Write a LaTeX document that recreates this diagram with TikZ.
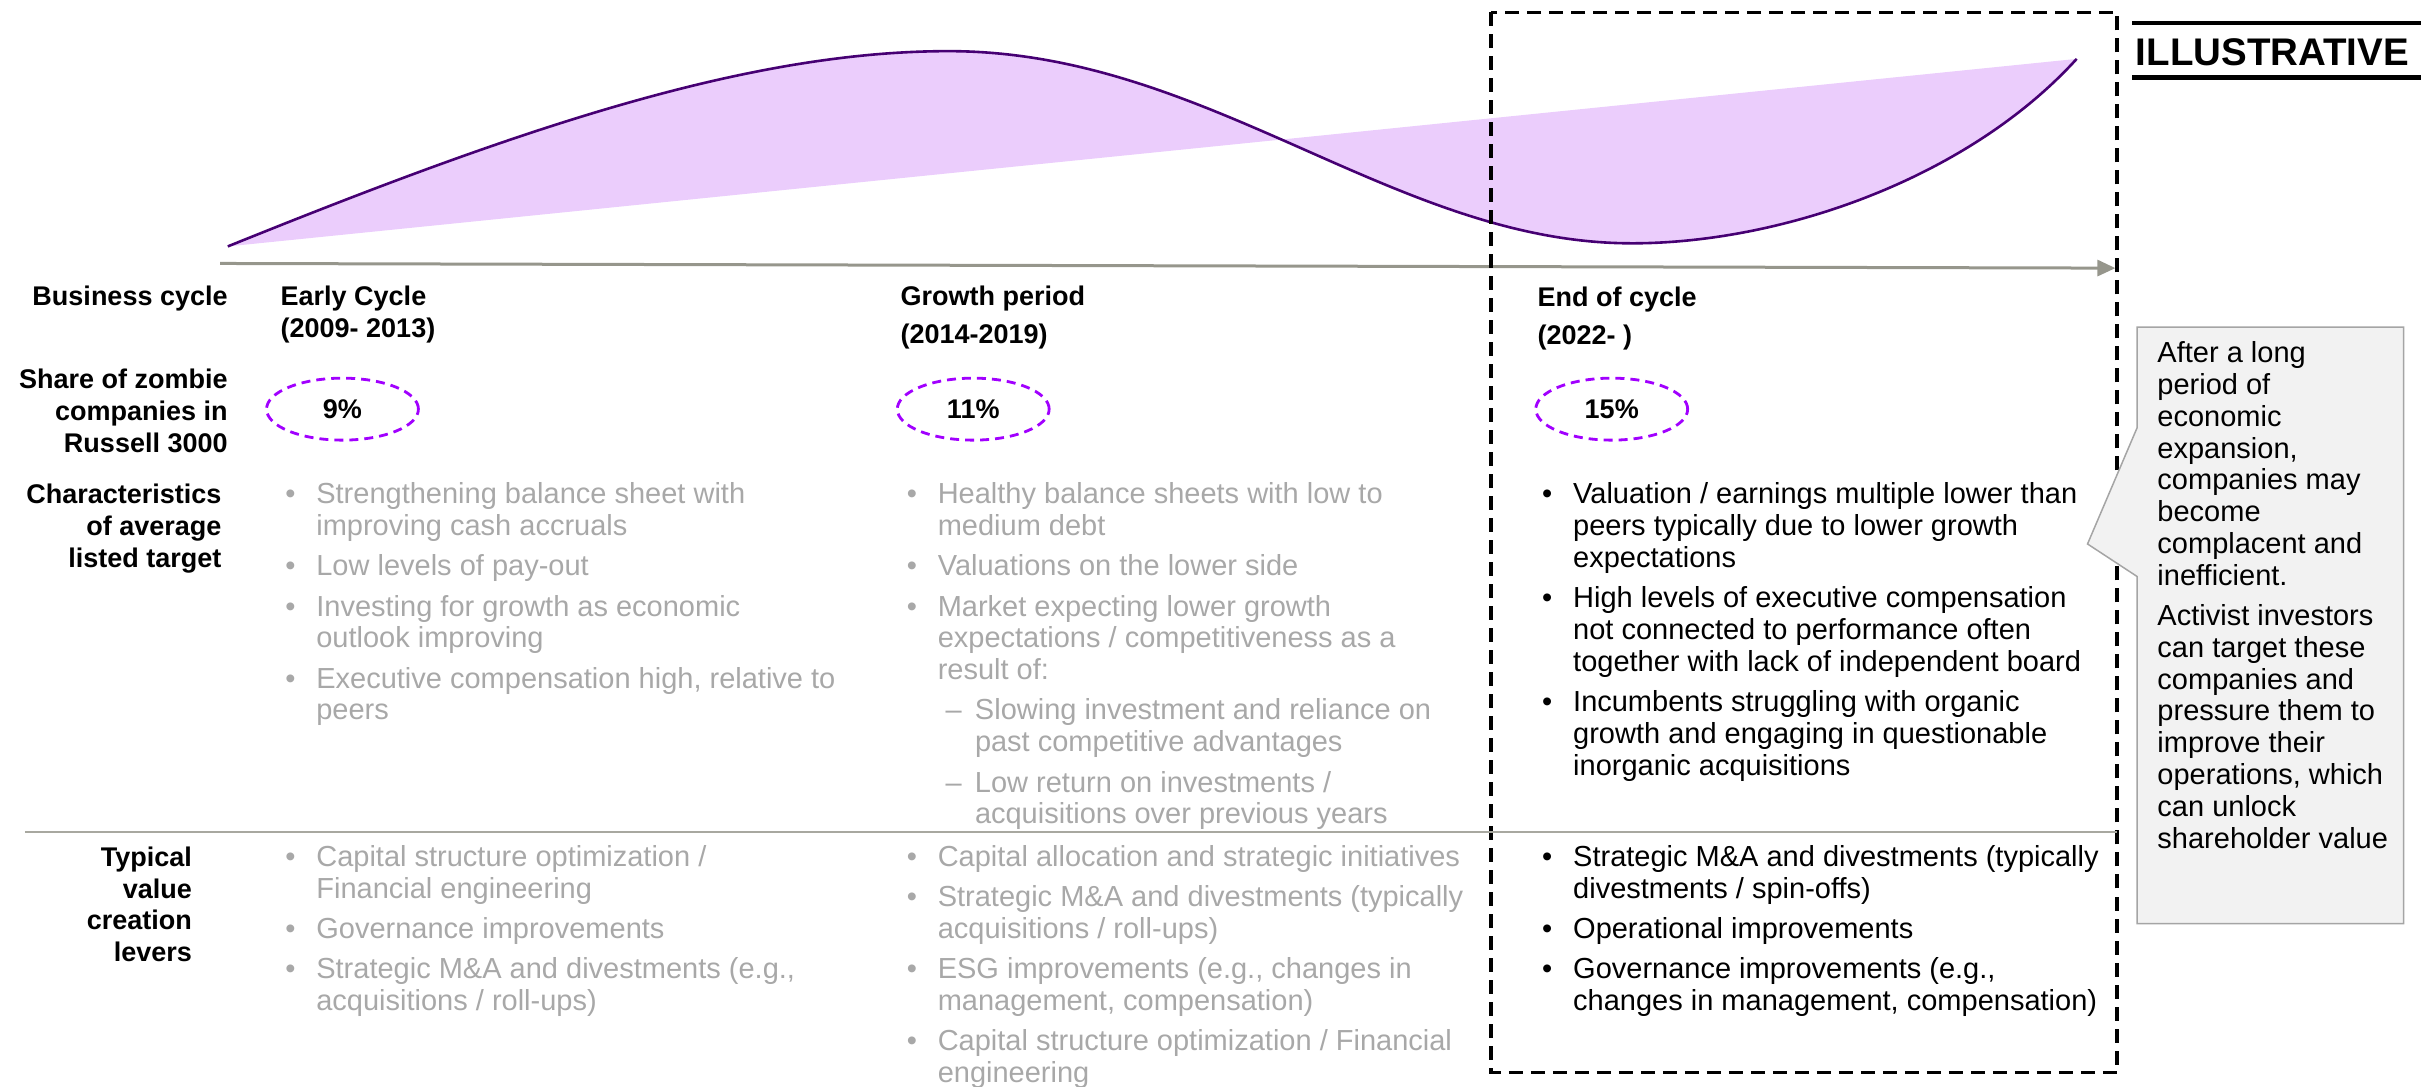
\documentclass[tikz,border=0pt]{standalone}
\usepackage{fontspec}
\setmainfont{Liberation Sans}
\usetikzlibrary{arrows.meta,shapes.geometric}
\definecolor{curvepurple}{HTML}{460073}
\definecolor{fillpurple}{HTML}{EBCDFC}
\definecolor{ovalpurple}{HTML}{A100FF}
\definecolor{axisgray}{HTML}{96968C}
\definecolor{txtgray}{HTML}{A8A8A8}
\definecolor{sepgray}{HTML}{A8A8A0}
\definecolor{calloutfill}{HTML}{F2F2F2}
\definecolor{calloutedge}{HTML}{A5A5A5}
\newlength\spx \setlength\spx{1.5497pt}
\newcommand\bl{\makebox[20\spx][l]{•}}
\newcommand\sbl{\hspace*{5\spx}\makebox[19\spx][l]{–}}
\newcommand\sind{\hspace*{24\spx}}
\newcommand\gapb{\\[8.5pt]}
\tikzset{
  lbl/.style={anchor=base east, inner sep=0, font=\fontsize{27}{31.8}\selectfont\bfseries},
  hdr/.style={anchor=base west, inner sep=0, font=\fontsize{27}{31.8}\selectfont\bfseries},
  blk/.style={anchor=base west, inner sep=0, font=\fontsize{29}{31.8}\selectfont},
  greyblk/.style={blk, text=txtgray},
  oval/.style={ellipse, draw=ovalpurple, line width=2.8pt, dash pattern=on 9pt off 6pt,
    minimum width=98\spx, minimum height=40\spx, inner sep=0, font=\fontsize{27}{31.8}\selectfont\bfseries},
  axisline/.style={draw=axisgray, line width=3pt, -{Triangle[length=18pt,width=16pt]}},
  endbox/.style={draw=black, line width=3.5pt, dash pattern=on 14pt off 8pt},
  sepline/.style={draw=sepgray, line width=2pt},
  callout/.style={fill=calloutfill, draw=calloutedge, line width=1.5pt},
  illline/.style={draw=black, line width=4.5pt}
}
\begin{document}
\begin{tikzpicture}[x=1.5497pt, y=-1.5497pt]
\useasboundingbox (0,0) rectangle (1568,701);

% wave
\coordinate (cs) at (147,159);
\coordinate (cpk) at (612,33);
\coordinate (ctr) at (1053,157);
\coordinate (ce) at (1340,38);
\fill[fillpurple] (cs) .. controls (330,85) and (480,33) .. (cpk)
  .. controls (780,33) and (900,157) .. (ctr)
  .. controls (1150,157) and (1270,115) .. (ce) -- cycle;
\draw[curvepurple, line width=2.6pt] (cs) .. controls (330,85) and (480,33) .. (cpk)
  .. controls (780,33) and (900,157) .. (ctr)
  .. controls (1150,157) and (1270,115) .. (ce);

% axis
\coordinate (ax0) at (142,170);
\coordinate (ax1) at (1365,173);
\draw[axisline] (ax0) -- (ax1);

% dashed end-of-cycle box
\draw[endbox] (962,8) rectangle (1366,692);

% separator
\coordinate (sep0) at (16,537);
\coordinate (sep1) at (1366,537);
\draw[sepline] (sep0) -- (sep1);

% ILLUSTRATIVE
\coordinate (il0) at (1376,15);
\coordinate (il1) at (1562,15);
\coordinate (il2) at (1376,50);
\coordinate (il3) at (1562,50);
\draw[illline] (il0) -- (il1);
\draw[illline] (il2) -- (il3);
\node[anchor=base west, inner sep=0, font=\fontsize{38.5}{40}\selectfont\bfseries] (illus) at (1378,42) {ILLUSTRATIVE};

% row labels
\node[lbl] (lbBiz) at (147,197) {\begin{tabular}[t]{@{}r@{}}Business cycle\end{tabular}};
\node[lbl] (lbShare) at (147,251) {\begin{tabular}[t]{@{}r@{}}Share of zombie\\companies in\\Russell 3000\end{tabular}};
\node[lbl] (lbChar) at (143,325) {\begin{tabular}[t]{@{}r@{}}Characteristics\\of average\\listed target\end{tabular}};
\node[lbl] (lbLev) at (124,559) {\begin{tabular}[t]{@{}r@{}}Typical\\value\\creation\\levers\end{tabular}};

% column headers
\node[hdr] (h1) at (181,197) {\begin{tabular}[t]{@{}l@{}}Early Cycle\\(2009- 2013)\end{tabular}};
\node[hdr] (h2) at (581,197) {\begin{tabular}[t]{@{}l@{}}Growth period\\[6pt](2014-2019)\end{tabular}};
\node[hdr] (h3) at (992,198) {\begin{tabular}[t]{@{}l@{}}End of cycle\\[6pt](2022- )\end{tabular}};

% zombie shares
\node[oval] (z1) at (221,264) {9\%};
\node[oval] (z2) at (628,264) {11\%};
\node[oval] (z3) at (1040,264) {15\%};

% characteristics
\node[greyblk] (c1) at (184,325) {\begin{tabular}[t]{@{}l@{}l@{}}
\bl & Strengthening balance sheet with\\
 & improving cash accruals\gapb
\bl & Low levels of pay-out\gapb
\bl & Investing for growth as economic\\
 & outlook improving\gapb
\bl & Executive compensation high, relative to\\
 & peers
\end{tabular}};
\node[greyblk] (c2) at (585,325) {\begin{tabular}[t]{@{}l@{}l@{}}
\bl & Healthy balance sheets with low to\\
 & medium debt\gapb
\bl & Valuations on the lower side\gapb
\bl & Market expecting lower growth\\
 & expectations / competitiveness as a\\
 & result of:\gapb
 & \sbl Slowing investment and reliance on\\
 & \sind past competitive advantages\gapb
 & \sbl Low return on investments /\\
 & \sind acquisitions over previous years
\end{tabular}};
\node[blk] (c3) at (995,325) {\begin{tabular}[t]{@{}l@{}l@{}}
\bl & Valuation / earnings multiple lower than\\
 & peers typically due to lower growth\\
 & expectations\gapb
\bl & High levels of executive compensation\\
 & not connected to performance often\\
 & together with lack of independent board\gapb
\bl & Incumbents struggling with organic\\
 & growth and engaging in questionable\\
 & inorganic acquisitions
\end{tabular}};

% levers
\node[greyblk] (l1) at (184,559) {\begin{tabular}[t]{@{}l@{}l@{}}
\bl & Capital structure optimization /\\
 & Financial engineering\gapb
\bl & Governance improvements\gapb
\bl & Strategic M\&A and divestments (e.g.,\\
 & acquisitions / roll-ups)
\end{tabular}};
\node[greyblk] (l2) at (585,559) {\begin{tabular}[t]{@{}l@{}l@{}}
\bl & Capital allocation and strategic initiatives\gapb
\bl & Strategic M\&A and divestments (typically\\
 & acquisitions / roll-ups)\gapb
\bl & ESG improvements (e.g., changes in\\
 & management, compensation)\gapb
\bl & Capital structure optimization / Financial\\
 & engineering
\end{tabular}};
\node[blk] (l3) at (995,559) {\begin{tabular}[t]{@{}l@{}l@{}}
\bl & Strategic M\&A and divestments (typically\\
 & divestments / spin-offs)\gapb
\bl & Operational improvements\gapb
\bl & Governance improvements (e.g.,\\
 & changes in management, compensation)
\end{tabular}};

% callout
\draw[callout] (1379,211) -- (1551,211) -- (1551,596) -- (1379,596) -- (1379,372) -- (1347,351) -- (1379,276) -- cycle;
\node[blk] (note) at (1392,234) {\begin{tabular}[t]{@{}l@{}}
After a long\\ period of\\ economic\\ expansion,\\ companies may\\ become\\ complacent and\\ inefficient.\gapb
Activist investors\\ can target these\\ companies and\\ pressure them to\\ improve their\\ operations, which\\ can unlock\\ shareholder value
\end{tabular}};
\end{tikzpicture}
\end{document}
